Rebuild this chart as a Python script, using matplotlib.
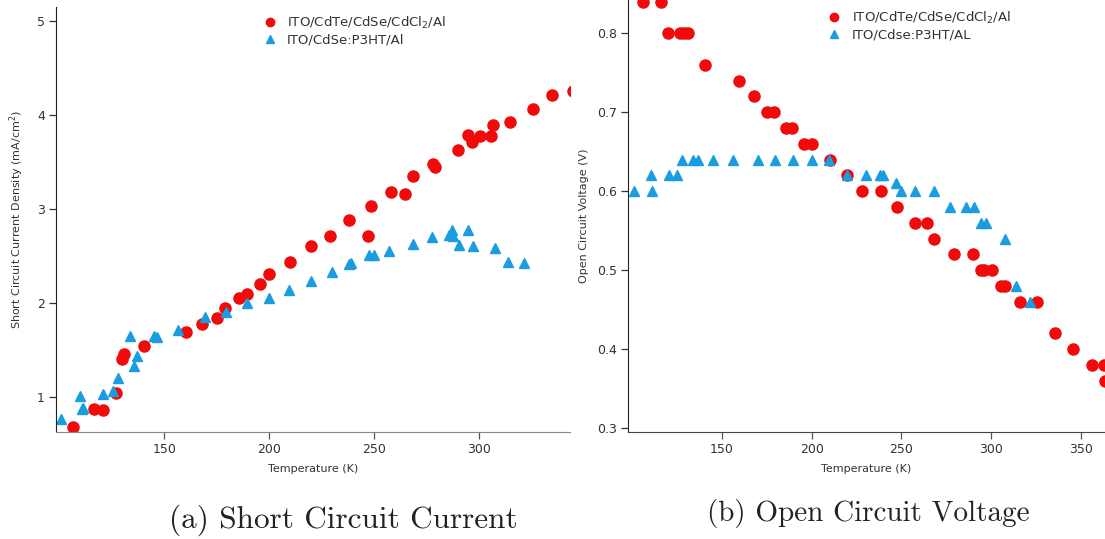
import numpy as np
import matplotlib
matplotlib.use("Agg")
import matplotlib.pyplot as plt

# (a) short circuit current density vs temperature
jsc_red_T = [106.5, 116.6, 120.9, 127, 130, 131, 140.5, 160.5, 168, 175, 179, 185.5, 189.5,
             195.5, 200, 210, 220, 229, 238, 247, 248.5, 258, 264.6, 268.5, 278, 279, 290,
             294.7, 296.6, 300.5, 305.7, 306.6, 315, 325.7, 335, 345]
jsc_red = [0.68, 0.88, 0.86, 1.05, 1.41, 1.46, 1.54, 1.69, 1.78, 1.84, 1.95, 2.06, 2.10,
           2.20, 2.31, 2.44, 2.61, 2.71, 2.89, 2.71, 3.03, 3.18, 3.16, 3.35, 3.48, 3.45, 3.63,
           3.79, 3.71, 3.78, 3.78, 3.89, 3.93, 4.07, 4.21, 4.26]
jsc_blue_T = [101, 110, 111, 111.5, 121, 125.6, 128, 133.8, 135.4, 137, 145, 146.7, 156.5,
              169.6, 179.6, 189.6, 200, 209.5, 220, 230, 238, 239, 247.4, 250, 257, 268.4,
              277.5, 285.6, 287, 287.5, 290.4, 294.7, 297, 307.6, 313.8, 321.4]
jsc_blue = [0.77, 1.01, 0.87, 0.89, 1.03, 1.07, 1.20, 1.65, 1.33, 1.44, 1.65, 1.64, 1.72,
            1.85, 1.91, 2.00, 2.06, 2.14, 2.24, 2.33, 2.42, 2.43, 2.51, 2.51, 2.55, 2.63,
            2.70, 2.72, 2.78, 2.71, 2.62, 2.78, 2.61, 2.59, 2.44, 2.43]

# (b) open circuit voltage vs temperature
voc_red_T = [106, 116, 120, 126.7, 129, 131, 140.5, 159.5, 168, 175, 179, 185.5, 189,
             195.5, 200, 210, 219.5, 228, 238.5, 247.8, 257.8, 264, 268, 279, 290, 294.5,
             296, 300.5, 305.5, 307.8, 316, 325.5, 335.5, 345.5, 356, 363, 363.5]
voc_red = [0.84, 0.84, 0.80, 0.80, 0.80, 0.80, 0.76, 0.74, 0.72, 0.70, 0.70, 0.68, 0.68,
           0.66, 0.66, 0.64, 0.62, 0.60, 0.60, 0.58, 0.56, 0.56, 0.54, 0.52, 0.52, 0.50,
           0.50, 0.50, 0.48, 0.48, 0.46, 0.46, 0.42, 0.40, 0.38, 0.38, 0.36]
voc_blue_T = [101, 110.5, 111, 120.5, 125, 127.8, 134, 137, 145, 156, 170, 179.5, 189.5,
              200.5, 209.5, 219.5, 230.5, 238, 239.5, 247, 249.5, 257.5, 268, 277, 286,
              290.5, 294.5, 297, 307.8, 314, 321.7]
voc_blue = [0.60, 0.62, 0.60, 0.62, 0.62, 0.64, 0.64, 0.64, 0.64, 0.64, 0.64, 0.64, 0.64,
            0.64, 0.64, 0.62, 0.62, 0.62, 0.62, 0.61, 0.60, 0.60, 0.60, 0.58, 0.58,
            0.58, 0.56, 0.56, 0.54, 0.48, 0.46]

ROJO = '#f00a0a'
AZUL = '#1a9de0'
CINZA = '#333333'

plt.rcParams['font.family'] = ['DejaVu Sans']

fig = plt.figure(figsize=(11.05, 5.39), dpi=100)
ax1 = fig.add_axes([0.0507, 0.1985, 0.4652, 0.7885])
ax2 = fig.add_axes([0.5683, 0.1985, 0.4317, 0.8015])


def estilo(ax):
    for lado in ('top', 'right'):
        ax.spines[lado].set_visible(False)
    ax.spines['left'].set_color('#222222')
    ax.spines['bottom'].set_color('#888888')
    ax.tick_params(direction='out', length=5, width=0.9, labelsize=9,
                   colors=CINZA, pad=3)
    ax.tick_params(axis='x', color='#555555')


ax1.plot(jsc_red_T, jsc_red, 'o', color=ROJO, ms=8, ls='none',
         label='ITO/CdTe/CdSe/CdCl$_2$/Al')
ax1.plot(jsc_blue_T, jsc_blue, '^', color=AZUL, ms=7.5, ls='none',
         label='ITO/CdSe:P3HT/Al')
ax1.set_xlim(98.4, 343.5)
ax1.set_ylim(0.63, 5.15)
ax1.set_xticks([150, 200, 250, 300])
ax1.set_yticks([1, 2, 3, 4, 5])
ax1.set_xlabel('Temperature (K)', fontsize=8, color=CINZA, labelpad=6)
ax1.set_ylabel('Short Circuit Current Density (mA/cm$^2$)', fontsize=8, color=CINZA, labelpad=8)
estilo(ax1)
ax1.legend(loc='upper left', bbox_to_anchor=(0.39, 0.995), frameon=False, fontsize=9.5,
           markerscale=0.75, handlelength=1.2, handletextpad=0.7, labelspacing=0.2,
           borderaxespad=0, labelcolor=CINZA)

ax2.plot(voc_red_T, voc_red, 'o', color=ROJO, ms=8, ls='none',
         label='ITO/CdTe/CdSe/CdCl$_2$/Al')
ax2.plot(voc_blue_T, voc_blue, '^', color=AZUL, ms=7.5, ls='none',
         label='ITO/Cdse:P3HT/AL')
ax2.set_xlim(97.8, 363.3)
ax2.set_ylim(0.295, 0.842)
ax2.set_xticks([150, 200, 250, 300, 350])
ax2.set_yticks([0.3, 0.4, 0.5, 0.6, 0.7, 0.8])
ax2.set_xlabel('Temperature (K)', fontsize=8, color=CINZA, labelpad=6)
ax2.set_ylabel('Open Circuit Voltage (V)', fontsize=8, color=CINZA, labelpad=6)
estilo(ax2)
ax2.spines['bottom'].set_color('#444444')
ax2.legend(loc='upper left', bbox_to_anchor=(0.405, 0.99), frameon=False, fontsize=9.5,
           markerscale=0.75, handlelength=1.2, handletextpad=0.7, labelspacing=0.2,
           borderaxespad=0, labelcolor=CINZA)

fig.text(0.311, 0.035, '(a) Short Circuit Current', fontsize=22.5, family='cmr10',
         ha='center', va='center', color='#222222')
fig.text(0.786, 0.048, '(b) Open Circuit Voltage', fontsize=21, family='cmr10',
         ha='center', va='center', color='#222222')

fig.savefig('out.png', dpi=100, facecolor='white')
